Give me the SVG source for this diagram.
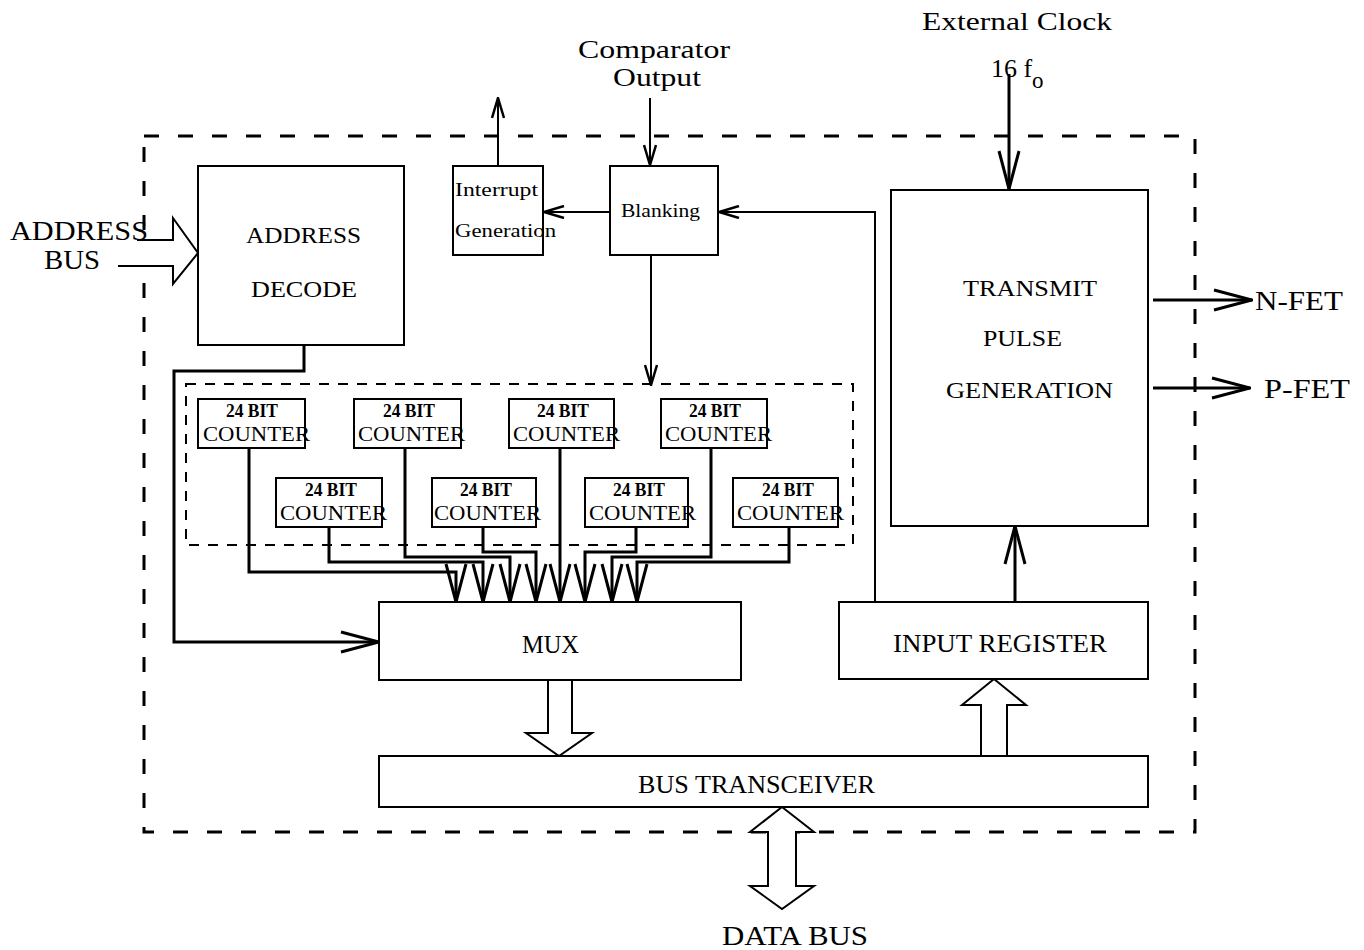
<svg xmlns="http://www.w3.org/2000/svg" width="1364" height="950" viewBox="0 0 1364 950">
  <style>
    .box { fill: #fff; stroke: #000; stroke-width: 2; }
    .wire { fill: none; stroke: #000; stroke-width: 3; }
    .thin { fill: none; stroke: #000; stroke-width: 2; }
    .bus { fill: #fff; stroke: #000; stroke-width: 2; }
    .lbl { font-family: "Liberation Serif", "DejaVu Serif", serif; fill: #000; }
    .cnt { font-family: "Liberation Serif", "DejaVu Serif", serif; font-size: 20px; fill: #000; }
    .cnt-b { font-weight: bold; font-size: 19px; }
  </style>
  <defs>
    <marker id="ah" viewBox="0 0 40 24" refX="39" refY="12" markerWidth="40" markerHeight="24" markerUnits="userSpaceOnUse" orient="auto">
      <path d="M1,2 L39,12 L1,22" fill="none" stroke="#000" stroke-width="3"/>
    </marker>
    <marker id="ahs" viewBox="0 0 22 14" refX="21" refY="7" markerWidth="22" markerHeight="14" markerUnits="userSpaceOnUse" orient="auto">
      <path d="M1,1 L21,7 L1,13" fill="none" stroke="#000" stroke-width="2.5"/>
    </marker>
  </defs>

  <rect width="1364" height="950" fill="#fff"/>

  <!-- chip boundary -->
  <rect x="144" y="136" width="1051" height="696" fill="none" stroke="#000" stroke-width="3" stroke-dasharray="15 19"/>
  <!-- counter bank boundary -->
  <rect x="186" y="384" width="667" height="161" fill="none" stroke="#000" stroke-width="2" stroke-dasharray="10 9"/>

  <!-- connectors -->
  <g id="connectors">
    <!-- address bus into decoder -->
    <path class="bus" d="M137,240 H173 V218 L198,253 L173,284 V266 H118"/>
    <!-- decoder select to MUX -->
    <path class="wire" d="M304,345 V371 H174 V642 H379" marker-end="url(#ah)"/>
    <!-- comparator output into blanking -->
    <path class="thin" d="M650,98 V165" marker-end="url(#ahs)"/>
    <!-- blanking to interrupt generation -->
    <path class="thin" d="M610,212 H544" marker-end="url(#ahs)"/>
    <!-- interrupt out -->
    <path class="thin" d="M498,165 V98" marker-end="url(#ahs)"/>
    <!-- blanking to counters -->
    <path class="thin" d="M651,255 V385" marker-end="url(#ahs)"/>
    <!-- input register feedback to blanking -->
    <path class="thin" d="M875,602 V212 H719" marker-end="url(#ahs)"/>
    <!-- external clock -->
    <path class="wire" d="M1009,74 V189" marker-end="url(#ah)"/>
    <!-- input register to transmit pulse generation -->
    <path class="wire" d="M1015,602 V526" marker-end="url(#ah)"/>
    <!-- FET drive outputs -->
    <path class="wire" d="M1153,300 H1252" marker-end="url(#ah)"/>
    <path class="wire" d="M1153,388 H1250" marker-end="url(#ah)"/>
    <!-- counters into MUX -->
    <path class="wire" d="M249,448 V572 H456 V602" marker-end="url(#ah)"/>
    <path class="wire" d="M329,527 V562 H483 V602" marker-end="url(#ah)"/>
    <path class="wire" d="M405,448 V557 H510 V602" marker-end="url(#ah)"/>
    <path class="wire" d="M483,527 V552 H536 V602" marker-end="url(#ah)"/>
    <path class="wire" d="M560,448 V602" marker-end="url(#ah)"/>
    <path class="wire" d="M636,527 V552 H585 V602" marker-end="url(#ah)"/>
    <path class="wire" d="M711,448 V557 H612 V602" marker-end="url(#ah)"/>
    <path class="wire" d="M789,527 V562 H637 V602" marker-end="url(#ah)"/>
    <!-- MUX to bus transceiver -->
    <path class="bus" d="M548,680 V733 H526 L559,756 L592,733 H572 V680"/>
    <!-- bus transceiver to input register -->
    <path class="bus" d="M981,756 V705 H962 L994,679 L1026,705 H1007 V756"/>
    <!-- data bus, both ways -->
    <path class="bus" d="M782,807 L814,832 H796 V886 H814 L782,909 L750,886 H768 V832 H750 Z"/>
  </g>

  <!-- external labels -->
  <g id="labels">
    <text class="lbl" x="10" y="240" font-size="28" textLength="138" lengthAdjust="spacingAndGlyphs">ADDRESS</text>
    <text class="lbl" x="44" y="269" font-size="28" textLength="56" lengthAdjust="spacingAndGlyphs">BUS</text>
    <text class="lbl" x="578" y="58" font-size="25" textLength="152" lengthAdjust="spacingAndGlyphs">Comparator</text>
    <text class="lbl" x="613" y="86" font-size="25" textLength="88" lengthAdjust="spacingAndGlyphs">Output</text>
    <text class="lbl" x="922" y="30" font-size="25" textLength="190" lengthAdjust="spacingAndGlyphs">External Clock</text>
    <text class="lbl" x="991" y="77" font-size="26">16 f</text>
    <text class="lbl" x="1032" y="88" font-size="23">o</text>
    <text class="lbl" x="1255" y="310" font-size="28" textLength="88" lengthAdjust="spacingAndGlyphs">N-FET</text>
    <text class="lbl" x="1264" y="398" font-size="28" textLength="86" lengthAdjust="spacingAndGlyphs">P-FET</text>
    <text class="lbl" x="722" y="945" font-size="27" textLength="146" lengthAdjust="spacingAndGlyphs">DATA BUS</text>
  </g>

  <g id="address-decode">
    <rect class="box" x="198" y="166" width="206" height="179"/>
    <text class="lbl" x="246" y="243" font-size="24" textLength="115" lengthAdjust="spacingAndGlyphs">ADDRESS</text>
    <text class="lbl" x="251" y="297" font-size="24" textLength="106" lengthAdjust="spacingAndGlyphs">DECODE</text>
  </g>

  <g id="interrupt-generation">
    <rect class="box" x="453" y="166" width="90" height="89"/>
    <text class="lbl" x="455" y="196" font-size="18" textLength="83" lengthAdjust="spacingAndGlyphs">Interrupt</text>
    <text class="lbl" x="455" y="237" font-size="18" textLength="101" lengthAdjust="spacingAndGlyphs">Generation</text>
  </g>

  <g id="blanking">
    <rect class="box" x="610" y="166" width="108" height="89"/>
    <text class="lbl" x="621" y="217" font-size="18" textLength="79" lengthAdjust="spacingAndGlyphs">Blanking</text>
  </g>

  <g id="transmit-pulse-generation">
    <rect class="box" x="891" y="190" width="257" height="336"/>
    <text class="lbl" x="963" y="296" font-size="24" textLength="134" lengthAdjust="spacingAndGlyphs">TRANSMIT</text>
    <text class="lbl" x="983" y="346" font-size="24" textLength="79" lengthAdjust="spacingAndGlyphs">PULSE</text>
    <text class="lbl" x="946" y="398" font-size="24" textLength="167" lengthAdjust="spacingAndGlyphs">GENERATION</text>
  </g>

  <!-- 24-bit counters -->
  <g id="counter-1">
    <rect class="box" x="198" y="399" width="107" height="49"/>
    <text class="cnt cnt-b" x="226" y="417" textLength="52" lengthAdjust="spacingAndGlyphs">24 BIT</text>
    <text class="cnt" x="203" y="441" textLength="107" lengthAdjust="spacingAndGlyphs">COUNTER</text>
  </g>
  <g id="counter-2">
    <rect class="box" x="354" y="399" width="107" height="49"/>
    <text class="cnt cnt-b" x="383" y="417" textLength="52" lengthAdjust="spacingAndGlyphs">24 BIT</text>
    <text class="cnt" x="358" y="441" textLength="107" lengthAdjust="spacingAndGlyphs">COUNTER</text>
  </g>
  <g id="counter-3">
    <rect class="box" x="509" y="399" width="105" height="49"/>
    <text class="cnt cnt-b" x="537" y="417" textLength="52" lengthAdjust="spacingAndGlyphs">24 BIT</text>
    <text class="cnt" x="513" y="441" textLength="107" lengthAdjust="spacingAndGlyphs">COUNTER</text>
  </g>
  <g id="counter-4">
    <rect class="box" x="661" y="399" width="106" height="49"/>
    <text class="cnt cnt-b" x="689" y="417" textLength="52" lengthAdjust="spacingAndGlyphs">24 BIT</text>
    <text class="cnt" x="665" y="441" textLength="107" lengthAdjust="spacingAndGlyphs">COUNTER</text>
  </g>
  <g id="counter-5">
    <rect class="box" x="276" y="478" width="106" height="49"/>
    <text class="cnt cnt-b" x="305" y="496" textLength="52" lengthAdjust="spacingAndGlyphs">24 BIT</text>
    <text class="cnt" x="280" y="520" textLength="107" lengthAdjust="spacingAndGlyphs">COUNTER</text>
  </g>
  <g id="counter-6">
    <rect class="box" x="432" y="478" width="104" height="49"/>
    <text class="cnt cnt-b" x="460" y="496" textLength="52" lengthAdjust="spacingAndGlyphs">24 BIT</text>
    <text class="cnt" x="434" y="520" textLength="107" lengthAdjust="spacingAndGlyphs">COUNTER</text>
  </g>
  <g id="counter-7">
    <rect class="box" x="585" y="478" width="103" height="49"/>
    <text class="cnt cnt-b" x="613" y="496" textLength="52" lengthAdjust="spacingAndGlyphs">24 BIT</text>
    <text class="cnt" x="589" y="520" textLength="107" lengthAdjust="spacingAndGlyphs">COUNTER</text>
  </g>
  <g id="counter-8">
    <rect class="box" x="733" y="478" width="105" height="49"/>
    <text class="cnt cnt-b" x="762" y="496" textLength="52" lengthAdjust="spacingAndGlyphs">24 BIT</text>
    <text class="cnt" x="737" y="520" textLength="107" lengthAdjust="spacingAndGlyphs">COUNTER</text>
  </g>

  <g id="mux">
    <rect class="box" x="379" y="602" width="362" height="78"/>
    <text class="lbl" x="522" y="653" font-size="26" textLength="57" lengthAdjust="spacingAndGlyphs">MUX</text>
  </g>

  <g id="input-register">
    <rect class="box" x="839" y="602" width="309" height="77"/>
    <text class="lbl" x="893" y="652" font-size="26" textLength="214" lengthAdjust="spacingAndGlyphs">INPUT REGISTER</text>
  </g>

  <g id="bus-transceiver">
    <rect class="box" x="379" y="756" width="769" height="51"/>
    <text class="lbl" x="638" y="793" font-size="26" textLength="237" lengthAdjust="spacingAndGlyphs">BUS TRANSCEIVER</text>
  </g>
</svg>
